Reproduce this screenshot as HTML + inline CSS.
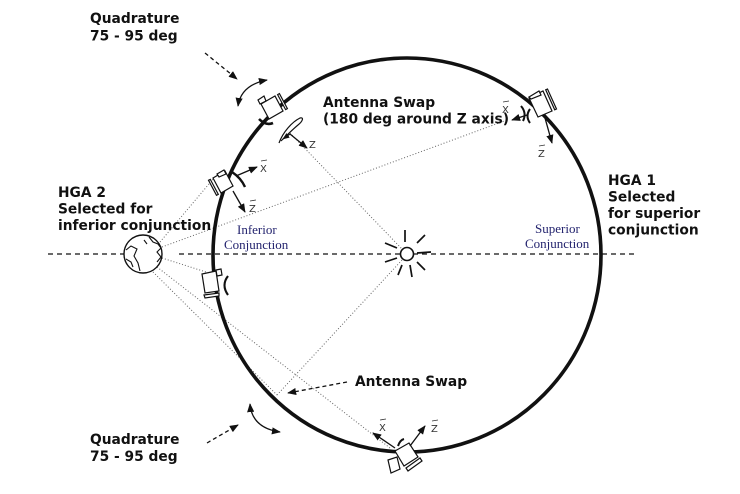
<!DOCTYPE html>
<html><head><meta charset="utf-8"><style>
html,body{margin:0;padding:0;background:#fff;}
svg{display:block;}
.b{font-family:"DejaVu Sans","Liberation Sans",sans-serif;font-weight:bold;font-size:13.8px;fill:#111;}
.s{font-family:"Liberation Serif",serif;font-size:13px;fill:#23236e;}
.ax{font-family:"DejaVu Sans","Liberation Sans",sans-serif;font-size:10px;fill:#333;}
</style></head><body>
<svg width="740" height="494" viewBox="0 0 740 494" xmlns="http://www.w3.org/2000/svg">
<defs>
<marker id="ah" viewBox="0 0 10 8" refX="9" refY="4" markerWidth="9" markerHeight="7.2" orient="auto-start-reverse" markerUnits="userSpaceOnUse">
<path d="M0,0 L10,4 L0,8 z" fill="#111"/>
</marker>
<marker id="as" viewBox="0 0 10 8" refX="9" refY="4" markerWidth="7" markerHeight="5.6" orient="auto-start-reverse" markerUnits="userSpaceOnUse">
<path d="M0,0 L10,4 L0,8 z" fill="#111"/>
</marker>
</defs>

<!-- horizontal dashed line -->
<g stroke="#111" stroke-width="1.3" stroke-dasharray="5 4" fill="none">
<line x1="48" y1="254" x2="124" y2="254"/>
<line x1="179" y1="254" x2="637" y2="254"/>
</g>

<!-- dotted sight lines -->
<g stroke="#666" stroke-width="1" stroke-dasharray="1 2" fill="none">
<line x1="160" y1="242" x2="214" y2="178"/>
<line x1="162" y1="247" x2="507" y2="120"/>
<line x1="162" y1="258" x2="206" y2="272"/>
<line x1="157" y1="267" x2="390" y2="448"/>
<line x1="153" y1="272" x2="277" y2="395"/>
<line x1="290" y1="133" x2="402" y2="249"/>
<line x1="402" y1="260" x2="277" y2="395"/>
</g>

<!-- orbit -->
<ellipse cx="407" cy="255" rx="194" ry="197" fill="none" stroke="#111" stroke-width="3.6"/>

<!-- Sun -->
<g stroke="#111" stroke-width="1.7" fill="none">
<line x1="405" y1="230" x2="405" y2="242"/>
<line x1="425" y1="235" x2="417" y2="243"/>
<line x1="385" y1="243" x2="397" y2="248"/>
<line x1="417" y1="253" x2="431" y2="252"/>
<line x1="385" y1="262" x2="397" y2="258"/>
<line x1="398" y1="275" x2="402" y2="265"/>
<line x1="410" y1="265" x2="412" y2="277"/>
<line x1="417" y1="262" x2="425" y2="270"/>
</g>
<circle cx="407" cy="254" r="6.5" fill="#fff" stroke="#111" stroke-width="1.6"/>

<!-- Earth -->
<circle cx="143" cy="254" r="19" fill="#fff" stroke="#111" stroke-width="1.4"/>
<g stroke="#111" stroke-width="1.1" fill="none">
<path d="M126,250 L131,246 L137,249 L134,256 L138,263 L140,271"/>
<path d="M149,237 L153,242 L158,244 L161,248 L157,252 L161,257 L157,262"/>
<path d="M126,259 L131,262 L133,267"/>
<path d="M144,240 L147,244"/>
</g>

<!-- quadrature arrows top -->
<line x1="205" y1="53" x2="237" y2="79" stroke="#111" stroke-width="1.3" stroke-dasharray="4 3" marker-end="url(#ah)"/>
<path d="M238,106 Q241,85 267,80" fill="none" stroke="#111" stroke-width="1.3" marker-start="url(#ah)" marker-end="url(#ah)"/>

<!-- quadrature arrows bottom -->
<line x1="207" y1="443" x2="238" y2="425" stroke="#111" stroke-width="1.3" stroke-dasharray="4 3" marker-end="url(#ah)"/>
<path d="M250,404 Q252,428 280,432" fill="none" stroke="#111" stroke-width="1.3" marker-start="url(#ah)" marker-end="url(#ah)"/>

<!-- antenna swap arrow bottom -->
<line x1="347" y1="382" x2="288" y2="393" stroke="#111" stroke-width="1.3" stroke-dasharray="4 3" marker-end="url(#ah)"/>

<!-- S/C 1 top-left -->
<g stroke="#111" stroke-width="1.2" fill="#fff">
<polygon points="261,104 275,96 283,111 269,119"/>
<polygon points="277.6,94.6 279.4,93.6 287.4,108.6 285.6,109.6"/>
<polygon points="258,100 264,96 266,101 260,104"/>
</g>
<path d="M259,119 Q266,126 273,123" fill="none" stroke="#111" stroke-width="2.6"/>

<!-- antenna swap swirl -->
<path d="M279,143 C283,132 292,122 300,118 C304,117 303,121 298,125 C292,130 286,136 281,141" fill="none" stroke="#111" stroke-width="1.2"/>
<line x1="290" y1="134" x2="283" y2="139" stroke="#111" stroke-width="1.2" marker-end="url(#as)"/>
<line x1="290" y1="134" x2="307" y2="148" stroke="#111" stroke-width="1.3" marker-end="url(#ah)"/>
<text class="ax" x="309" y="148">Z</text>

<!-- S/C 2 upper-left -->
<g stroke="#111" stroke-width="1.2" fill="#fff">
<polygon points="213,178 225,171 233,186 221,193"/>
<polygon points="210.3,179.4 208.5,180.3 216.5,195.3 218.3,194.4"/>
<polygon points="217,174 224,170 226,174 219,177"/>
</g>
<path d="M232,172 Q241,178 245,187" fill="none" stroke="#111" stroke-width="2.4"/>
<line x1="236" y1="176" x2="257" y2="167" stroke="#111" stroke-width="1.3" marker-end="url(#ah)"/>
<line x1="233" y1="191" x2="245" y2="212" stroke="#111" stroke-width="1.3" marker-end="url(#ah)"/>
<text class="ax" x="260" y="172">X</text>
<line x1="261" y1="161" x2="267" y2="160" stroke="#333" stroke-width="0.8"/>
<text class="ax" x="249" y="212">Z</text>
<line x1="250" y1="201" x2="256" y2="200" stroke="#333" stroke-width="0.8"/>

<!-- S/C 3 lower-left -->
<g stroke="#111" stroke-width="1.2" fill="#fff">
<polygon points="202,274 216,271 219,291 205,293"/>
<polygon points="204,295 219,293 219,296 205,298"/>
<polygon points="216,270 221,269 222,275 217,276"/>
</g>
<path d="M228,276 Q221,285 228,295" fill="none" stroke="#111" stroke-width="2.1"/>

<!-- S/C 4 top-right -->
<g stroke="#111" stroke-width="1.2" fill="#fff">
<polygon points="529,98 543,91 552,111 538,117"/>
<polygon points="545.7,89.8 547.5,89 556.5,109 554.7,109.8"/>
<polygon points="529,97 539,91 541,95 531,99"/>
</g>
<path d="M521,106 Q527,113 523,121" fill="none" stroke="#111" stroke-width="2"/>
<path d="M530,109 Q525,116 530,123" fill="none" stroke="#111" stroke-width="2"/>
<line x1="527" y1="115" x2="512" y2="120" stroke="#111" stroke-width="1.3" marker-end="url(#ah)"/>
<line x1="545" y1="118" x2="552" y2="143" stroke="#111" stroke-width="1.3" marker-end="url(#ah)"/>
<text class="ax" x="502" y="113">X</text>
<line x1="503" y1="102" x2="509" y2="101" stroke="#333" stroke-width="0.8"/>
<text class="ax" x="538" y="157">Z</text>
<line x1="539" y1="146" x2="545" y2="145" stroke="#333" stroke-width="0.8"/>

<!-- S/C 5 bottom -->
<g stroke="#111" stroke-width="1.2" fill="#fff">
<polygon points="395,451 409,443 418,457 404,466"/>
<polygon points="420,458 422,461 408,471 406,468"/>
<polygon points="388,460 397,457 400,469 391,473"/>
</g>
<path d="M398,446 Q400,440 404,439" fill="none" stroke="#111" stroke-width="2"/>
<line x1="395" y1="448" x2="373" y2="433" stroke="#111" stroke-width="1.3" marker-end="url(#ah)"/>
<line x1="410" y1="446" x2="425" y2="426" stroke="#111" stroke-width="1.3" marker-end="url(#ah)"/>
<text class="ax" x="379" y="431">X</text>
<line x1="380" y1="420" x2="386" y2="419" stroke="#333" stroke-width="0.8"/>
<text class="ax" x="431" y="432">Z</text>
<line x1="432" y1="421" x2="438" y2="420" stroke="#333" stroke-width="0.8"/>

<!-- bold labels -->
<text class="b" x="90" y="23">Quadrature</text>
<text class="b" x="90" y="40.5">75 - 95 deg</text>
<text class="b" x="323" y="107">Antenna Swap</text>
<text class="b" x="323" y="123.5">(180 deg around Z axis)</text>
<text class="b" x="58" y="197">HGA 2</text>
<text class="b" x="58" y="213.5">Selected for</text>
<text class="b" x="58" y="230">inferior conjunction</text>
<text class="b" x="608" y="185">HGA 1</text>
<text class="b" x="608" y="201.5">Selected</text>
<text class="b" x="608" y="218">for superior</text>
<text class="b" x="608" y="234.5">conjunction</text>
<text class="b" x="355" y="386">Antenna Swap</text>
<text class="b" x="90" y="444">Quadrature</text>
<text class="b" x="90" y="461">75 - 95 deg</text>

<!-- serif labels -->
<text class="s" x="237" y="234">Inferior</text>
<text class="s" x="224" y="249">Conjunction</text>
<text class="s" x="535" y="233">Superior</text>
<text class="s" x="525" y="248">Conjunction</text>
</svg>
</body></html>
